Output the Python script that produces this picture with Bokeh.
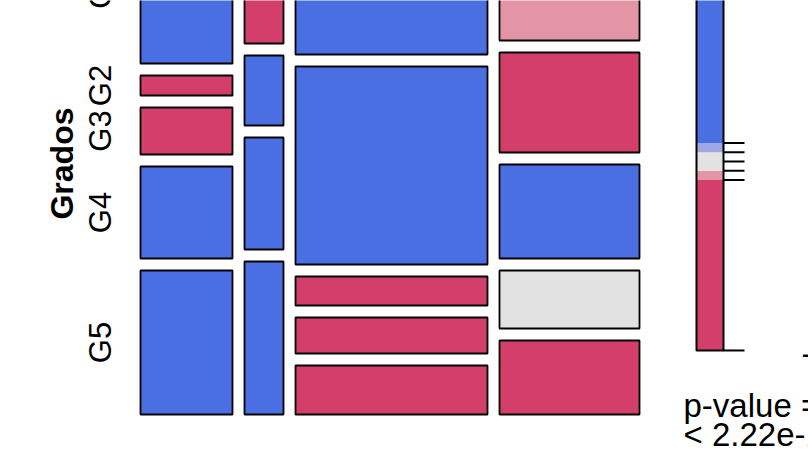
import math
from bokeh.plotting import figure
from bokeh.models import ColumnDataSource, Range1d, Label
from bokeh.core.properties import value
from bokeh.embed import file_html
from bokeh.resources import INLINE

# ---------------- data ----------------
# mosaic: relative column widths and cell heights per column (top to bottom)
col_widths = [92, 39, 192, 140]
cell_heights = [
    [151, 20, 47, 92, 144],
    [131, 70, 112, 153],
    [142, 198, 29, 36, 49],
    [128, 100, 94, 58, 74],
]
# residual shading class of every cell
cell_shading = [
    ["pos", "neg", "neg", "pos", "pos"],
    ["neg", "pos", "pos", "pos"],
    ["pos", "pos", "neg", "neg", "neg"],
    ["neg_mid", "neg", "pos", "none", "neg"],
]
row_labels = ["G1", "G2", "G3", "G4", "G5"]
row_title = "Grados"

# residual legend
legend_breaks = [-40.86, -4, -2, 2, 4, 36.0]
legend_classes = ["neg", "neg_mid", "none", "pos_mid", "pos"]
legend_ticks = [4, 2, 0, -2, -4, -40.86]
legend_tick_labels = ["", "", "", "", "", "-40.86"]
pvalue_lines = ["p-value =", "< 2.22e-16"]

# ---------------- style ----------------
shade_colors = {
    "pos": "#4A6FE3",
    "pos_mid": "#9DA8E2",
    "none": "#E2E2E2",
    "neg_mid": "#E495A5",
    "neg": "#D33F6A",
}
W, H = 808, 455
x0, y0 = 140, -88          # mosaic origin (top-left, in plot units)
gap = 12
font = "Liberation Sans"
fs = "31px"

p = figure(width=W, height=H, output_backend="svg", toolbar_location=None,
           x_range=Range1d(0, W), y_range=Range1d(H, 0),
           min_border=0, background_fill_color="white",
           border_fill_color="white")
p.xaxis.visible = False
p.yaxis.visible = False
p.grid.visible = False
p.outline_line_color = None

# ---------- mosaic tiles ----------
L, R, T, B, C = [], [], [], [], []
x = x0
for w, hs, shs in zip(col_widths, cell_heights, cell_shading):
    y = y0
    for h, s in zip(hs, shs):
        L.append(x); R.append(x + w); T.append(y); B.append(y + h)
        C.append(shade_colors[s])
        y += h + gap
    x += w + gap
p.quad(left="left", right="right", top="top", bottom="bottom",
       fill_color="color", line_color="black", line_width=1.8,
       source=ColumnDataSource(dict(left=L, right=R, top=T, bottom=B, color=C)))

# ---------- row labels (centred on first column cells) ----------
centers = []
y = y0
for h in cell_heights[0]:
    centers.append(y + h / 2)
    y += h + gap
lab_src = ColumnDataSource(dict(x=[100] * len(row_labels), y=centers, t=row_labels))
p.text(x="x", y="y", text="t", source=lab_src, angle=math.pi / 2,
       text_align="center", text_baseline="middle",
       text_font=value(font), text_font_size=fs, text_color="black")

total_h = sum(cell_heights[0]) + gap * (len(cell_heights[0]) - 1)
p.text(x=[61], y=[y0 + total_h / 2], text=[row_title], angle=math.pi / 2,
       text_align="center", text_baseline="middle",
       text_font=value(font), text_font_size="32px", text_font_style="bold",
       text_color="black")

# ---------- legend (residual scale) ----------
px_per_unit = 4.625
zero_px = 161
p.extra_y_ranges = {"res": Range1d((zero_px - H) / px_per_unit, zero_px / px_per_unit)}
lx0, lx1 = 696, 723
p.quad(left=lx0, right=lx1, bottom=legend_breaks[:-1], top=legend_breaks[1:],
       fill_color=[shade_colors[c] for c in legend_classes], line_color=None,
       y_range_name="res")
p.quad(left=lx0, right=lx1, bottom=legend_breaks[0], top=legend_breaks[-1],
       fill_color=None, line_color="black", line_width=2, y_range_name="res")
p.segment(x0=lx1, x1=744, y0=legend_ticks, y1=legend_ticks,
          line_color="black", line_width=2, y_range_name="res")
p.text(x=[801] * len(legend_ticks), y=legend_ticks, text=legend_tick_labels,
       text_align="left", text_baseline="middle", y_offset=3,
       text_font=value(font), text_font_size=fs, text_color="black",
       y_range_name="res")

# ---------- p-value ----------
for i, line in enumerate(pvalue_lines):
    p.add_layout(Label(x=683, y=405 + 29 * i, text=line, text_align="left",
                       text_baseline="alphabetic", text_font=font,
                       text_font_size="33px", text_color="black"))

open("out.html", "w").write(file_html(p, INLINE))
